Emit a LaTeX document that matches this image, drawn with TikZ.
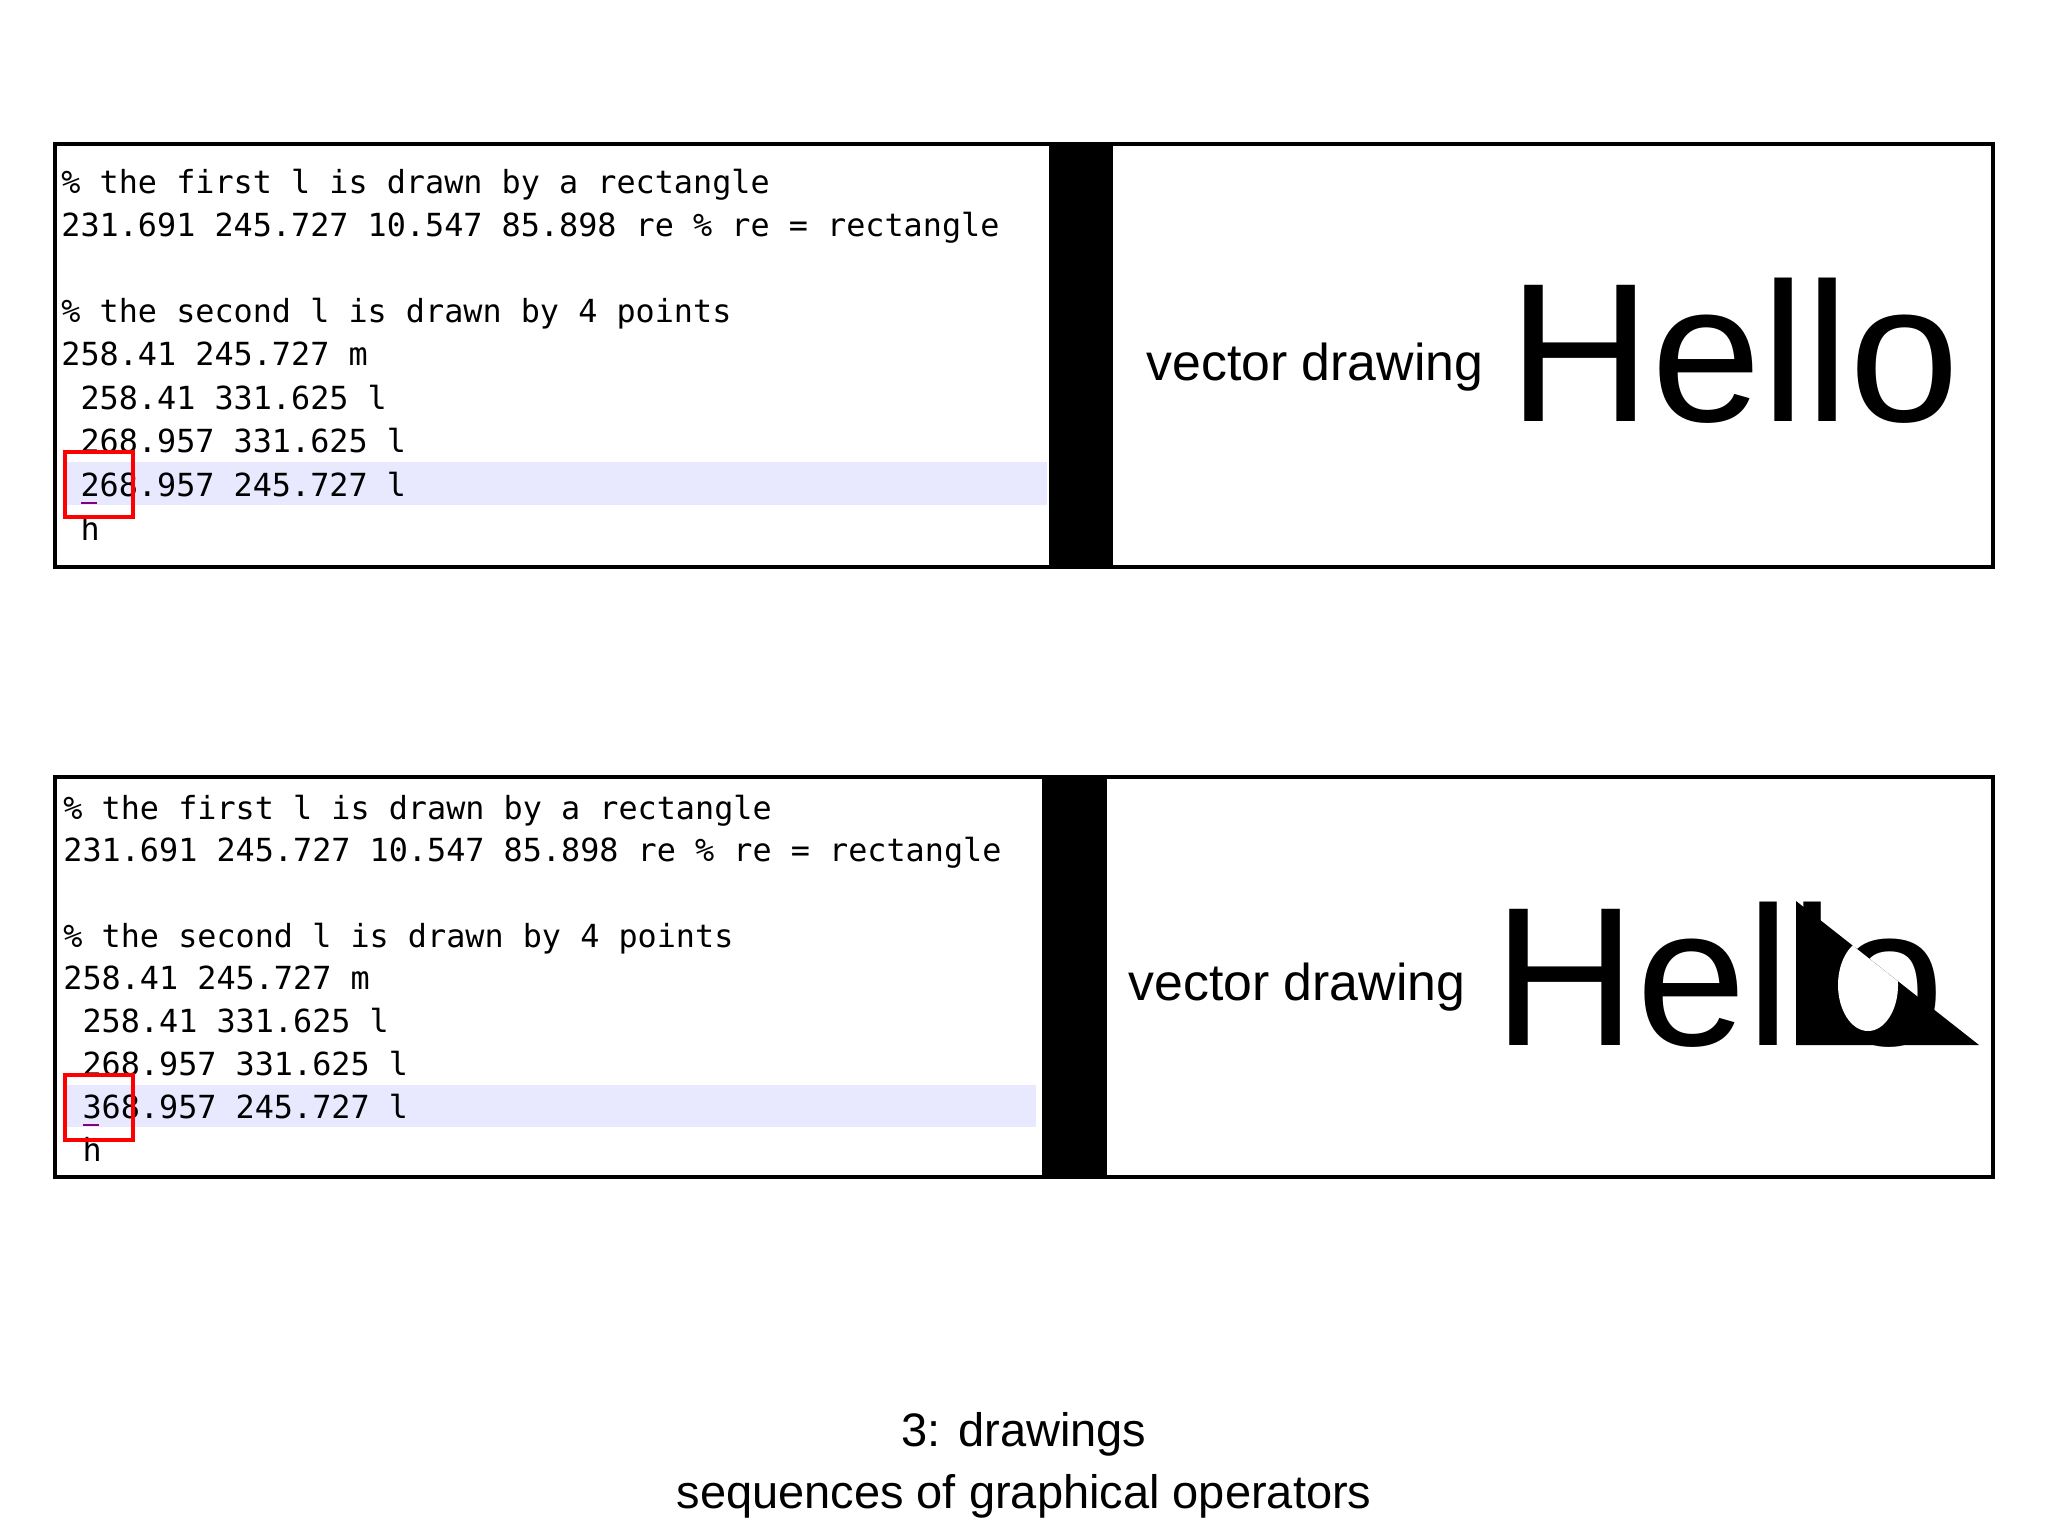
\documentclass[tikz,border=0pt]{standalone}
\usepackage{fontspec}
\setmainfont{Liberation Sans}
\newfontfamily\codefont{DejaVu Sans Mono}
\begin{document}
\begin{tikzpicture}[x=0.5pt,y=-0.5pt,
  code/.style={anchor=base west,inner sep=0pt,font=\codefont\fontsize{15.9}{18}\selectfont},
  vd/.style={anchor=base west,inner sep=0pt,font=\fontsize{25.9}{30}\selectfont},
  hello/.style={anchor=base west,inner sep=0pt,font=\fontsize{99}{110}\selectfont},
  panel/.style={draw=black,line width=1.8pt},
  hl/.style={fill=blue!9},
  redbox/.style={draw=red,line width=1.6pt}]
\useasboundingbox (0,0) rectangle (2048,1536);
\fill[white] (0,0) rectangle (2048,1536);
% top panel
\fill[hl] (65,462) rectangle (1047,505);
\draw[panel] (55,144) rectangle (1993,567);
\fill[black] (1049,145) rectangle (1113,566);
\node[code] (a1) at (61,193) {\% the first l is drawn by a rectangle};
\node[code] (a2) at (61,236) {231.691 245.727 10.547 85.898 re \% re = rectangle};
\node[code] (a3) at (61,322) {\% the second l is drawn by 4 points};
\node[code] (a4) at (61,365) {258.41 245.727 m};
\node[code] (a5) at (61,409) {\ 258.41 331.625 l};
\node[code] (a6) at (61,452) {\ 268.957 331.625 l};
\node[code] (a7) at (61,496) {\ 268.957 245.727 l};
\node[code] (a8) at (61,540) {\ h};
\draw[violet,line width=1.2pt] (81,503) -- (97,503);
\draw[redbox] (65,452) rectangle (133,517);
\node[vd] (v1) at (1146,380) {vector drawing};
\node[hello] (h1) at (1508,421) {Hello};
% bottom panel
\fill[hl] (65,1085) rectangle (1036,1127);
\draw[panel] (55,777) rectangle (1993,1177);
\fill[black] (1042,778) rectangle (1107,1176);
\node[code] (b1) at (63,819) {\% the first l is drawn by a rectangle};
\node[code] (b2) at (63,861) {231.691 245.727 10.547 85.898 re \% re = rectangle};
\node[code] (b3) at (63,947) {\% the second l is drawn by 4 points};
\node[code] (b4) at (63,989) {258.41 245.727 m};
\node[code] (b5) at (63,1032) {\ 258.41 331.625 l};
\node[code] (b6) at (63,1075) {\ 268.957 331.625 l};
\node[code] (b7) at (63,1118) {\ 368.957 245.727 l};
\node[code] (b8) at (63,1161) {\ h};
\draw[violet,line width=1.2pt] (83,1125) -- (99,1125);
\draw[redbox] (65,1075) rectangle (133,1140);
\node[vd] (v2) at (1128,1000) {vector drawing};
\node[hello] (h2) at (1493,1045) {Hello};
\fill[black] (1796,901) -- (1796,1045) -- (1979,1045) -- cycle;
\begin{scope}
\clip (1796,901) -- (1796,1045) -- (1979,1045) -- cycle;
\fill[white] (1868,985) ellipse [x radius=30, y radius=46];
\end{scope}
% caption
\node[anchor=base,inner sep=0pt,font=\fontsize{23.5}{28}\selectfont] (c1) at (1024,1446) {3: drawings};
\node[anchor=base,inner sep=0pt,font=\fontsize{23.5}{28}\selectfont] (c2) at (1024,1508) {sequences of graphical operators};
\end{tikzpicture}
\end{document}
